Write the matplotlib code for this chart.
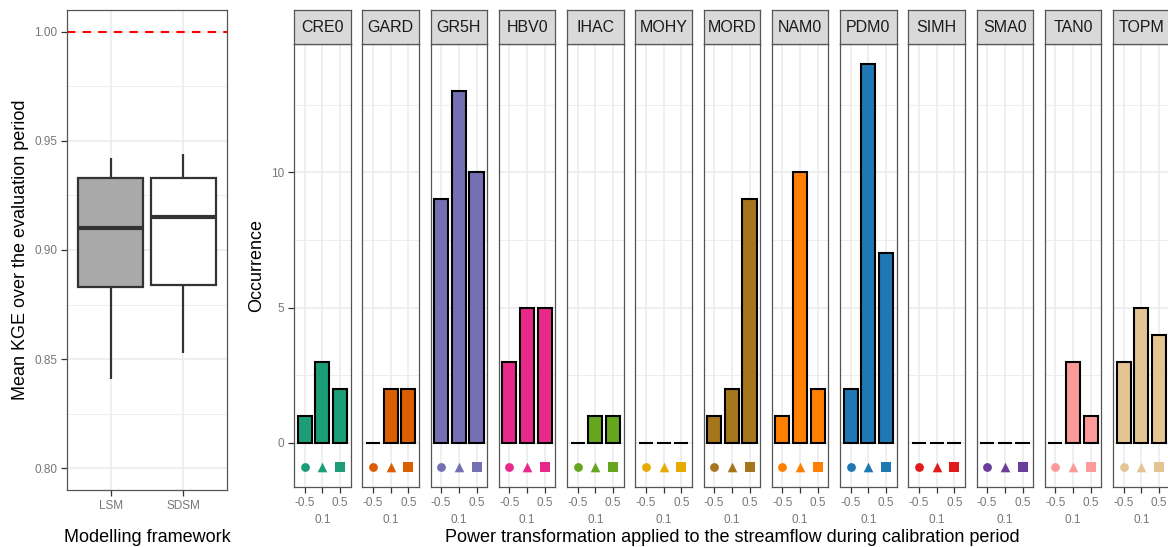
import matplotlib
matplotlib.use("Agg")
import matplotlib.pyplot as plt
from matplotlib.patches import Rectangle

plt.rcParams['font.family'] = ['Liberation Sans', 'DejaVu Sans']

# left panel: boxplot stats of mean KGE
frameworks = ['LSM', 'SDSM']
box_low = [0.841, 0.853]
box_q1 = [0.883, 0.884]
box_med = [0.910, 0.915]
box_q3 = [0.933, 0.933]
box_high = [0.942, 0.944]
box_fill = ['#A9A9A9', '#FFFFFF']

# right panels: occurrence per model and power transformation
models = ['CRE0', 'GARD', 'GR5H', 'HBV0', 'IHAC', 'MOHY', 'MORD',
          'NAM0', 'PDM0', 'SIMH', 'SMA0', 'TAN0', 'TOPM']
powers = ['-0.5', '0.1', '0.5']
counts = [
    [1, 3, 2],
    [0, 2, 2],
    [9, 13, 10],
    [3, 5, 5],
    [0, 1, 1],
    [0, 0, 0],
    [1, 2, 9],
    [1, 10, 2],
    [2, 14, 7],
    [0, 0, 0],
    [0, 0, 0],
    [0, 3, 1],
    [3, 5, 4],
]
colors = ['#1B9E77', '#D95F02', '#7570B3', '#E7298A', '#66A61E', '#E6AB02',
          '#A6761D', '#FF7F00', '#1F78B4', '#E31A1C', '#6A3D9A', '#FB9A99',
          '#E5C494']
markers = ['o', '^', 's']

W, H = 1168, 547
fig = plt.figure(figsize=(W / 100, H / 100), dpi=100)

tick_col = '#777777'
frame_col = '#333333'
grid_col = '#EBEBEB'


def style(ax):
    for s in ax.spines.values():
        s.set_color('#555555')
        s.set_linewidth(0.9)
    ax.tick_params(colors='#333333', labelcolor=tick_col, length=4,
                   width=0.9, labelsize=8.5, pad=3)
    ax.set_axisbelow(True)


# ---- left: boxplot
ax = fig.add_axes([67 / W, (H - 490) / H, 160 / W, 480 / H])
style(ax)
xs = [1, 2]
for i, x in enumerate(xs):
    ax.vlines(x, box_low[i], box_q1[i], color=frame_col, lw=1.6)
    ax.vlines(x, box_q3[i], box_high[i], color=frame_col, lw=1.6)
    ax.add_patch(Rectangle((x - 0.45, box_q1[i]), 0.9, box_q3[i] - box_q1[i],
                           facecolor=box_fill[i], edgecolor=frame_col, lw=1.6, zorder=3))
    ax.hlines(box_med[i], x - 0.45, x + 0.45, color=frame_col, lw=3, zorder=4)
ax.axhline(1.0, color='red', ls=(0, (4, 3.5)), lw=1.5)
ax.set_xlim(0.4, 2.6)
ax.set_ylim(0.79, 1.01)
ax.set_xticks(xs)
ax.set_xticklabels(frameworks)
ax.set_yticks([0.80, 0.85, 0.90, 0.95, 1.00])
ax.set_yticklabels(['0.80', '0.85', '0.90', '0.95', '1.00'])
ax.set_yticks([0.825, 0.875, 0.925, 0.975], minor=True)
ax.tick_params(which='minor', length=0)
ax.grid(True, which='major', color=grid_col, lw=1.1)
ax.grid(True, which='minor', axis='y', color=grid_col, lw=0.6)
ax.set_ylabel('Mean KGE over the evaluation period', fontsize=13, labelpad=4)
fig.text(147 / W, 1 - 537 / H, 'Modelling framework', fontsize=13,
         ha='center', va='center')

# ---- right: facets
left0 = 294
step = 68.25
pw = 56.7
body_top, body_bot = 44, 487
strip_top = 10
xpos = [1, 2, 3]
for k, m in enumerate(models):
    x0 = left0 + k * step
    a = fig.add_axes([x0 / W, (H - body_bot) / H, pw / W, (body_bot - body_top) / H])
    style(a)
    a.bar(xpos, counts[k], width=0.8, color=colors[k], edgecolor='black',
          lw=1.5, zorder=3)
    for j in range(3):
        a.scatter(xpos[j], -0.9, marker=markers[j], s=48 if j else 40,
                  color=colors[k], zorder=3, linewidths=0)
    a.set_xlim(0.4, 3.6)
    a.set_ylim(-1.63, 14.74)
    a.set_xticks(xpos)
    a.set_xticklabels(['-0.5', '\n0.1', '0.5'])
    for t in a.get_xticklabels():
        t.set_linespacing(1.55)
    a.set_yticks([0, 5, 10])
    a.set_yticks([2.5, 7.5, 12.5], minor=True)
    a.tick_params(which='minor', length=0)
    a.grid(True, which='major', color=grid_col, lw=1.1)
    a.grid(True, which='minor', axis='y', color=grid_col, lw=0.6)
    if k == 0:
        a.set_ylabel('Occurrence', fontsize=13, labelpad=4)
    else:
        a.tick_params(axis='y', left=False, labelleft=False)
    s = fig.add_axes([x0 / W, (H - body_top) / H, pw / W, (body_top - strip_top) / H])
    s.set_facecolor('#D9D9D9')
    s.set_xticks([])
    s.set_yticks([])
    for sp in s.spines.values():
        sp.set_color('#555555')
        sp.set_linewidth(0.9)
    s.text(0.5, 0.5, m, transform=s.transAxes, ha='center', va='center',
           fontsize=11.5, color='#1A1A1A')

fig.text(732 / W, 1 - 537 / H,
         'Power transformation applied to the streamflow during calibration period',
         fontsize=13, ha='center', va='center')

fig.savefig('out.png', dpi=100)
